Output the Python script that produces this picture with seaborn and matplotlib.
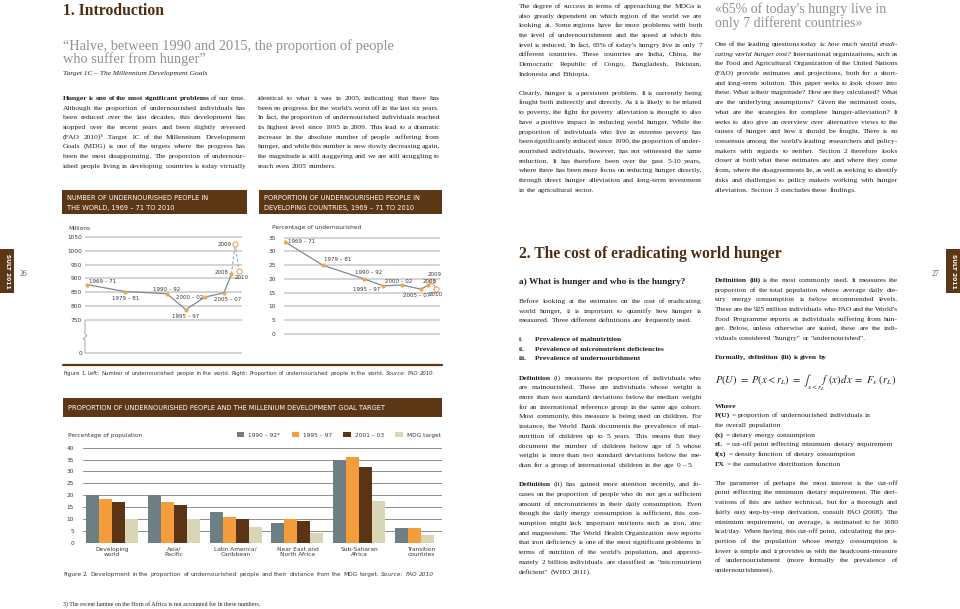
import matplotlib
matplotlib.use("Agg")
import math
import numpy as np
import pandas as pd
import matplotlib.pyplot as plt
import matplotlib.transforms as mtransforms
from matplotlib.font_manager import FontProperties
from matplotlib.patches import Rectangle
from matplotlib.lines import Line2D
import seaborn as sns

# -------------------------
# Chart data
# -------------------------
PERIODS = ["1969 – 71", "1979 – 81", "1990 – 92", "1995 – 97", "2000 – 02",
           "2005 – 07", "2008", "2009", "2010"]
PERIOD_MID = [1970, 1980, 1991, 1996, 2001, 2006, 2008, 2009, 2010]
MILLIONS = [878, 853, 845, 788, 833, 848, 915, 1023, 925]
PCT_UNDERNOURISHED = [33.5, 25, 20, 17.5, 17.8, 16.3, 17.8, 19.3, 16.2]
N_OBSERVED = 7          # 2009 and 2010 are projections (open markers, dashed)

MILLION_TICKS = [0, 750, 800, 850, 900, 950, 1000, 1050]
PCT_TICKS = [0, 5, 10, 15, 20, 25, 30, 35]
BAR_TICKS = [0, 5, 10, 15, 20, 25, 30, 35, 40]

REGIONS = ["Developing\nworld", "Asia/\nPacific", "Latin America/\nCaribbean",
           "Near East and\nNorth Africa", "Sub-Saharan\nAfrica", "Transition\ncountries"]
SERIES = ["1990 – 92*", "1995 – 97", "2001 – 03", "MDG target"]
VAL_1990 = [20, 20, 13, 8.3, 35, 6]
VAL_1995 = [18.2, 17, 11, 10, 36.2, 6]
VAL_2001 = [17, 16, 10, 9, 32, np.nan]
VAL_MDG = [10, 10, 6.6, 4.2, 17.4, 3.1]

# -------------------------
# Styling
# -------------------------
BROWN = "#5b3716"
TITLE_BROWN = "#4e2c10"
INK = "#231f20"
QUOTE = "#8f9193"
CHART_INK = "#3a3a3a"
GRID = "#c9c9c9"
LINE = "#7b8b97"
LINE_LIGHT = "#a3b3bf"
ORANGE = "#eba650"
BAR_COLORS = ["#6d7f83", "#f59d3d", "#5b3415", "#d9d6b5"]
SERIF = "Liberation Serif"
SANS = "DejaVu Sans"
CH = 4.2      # chart text size
LEAD = 9.7    # body line spacing (px)

sns.set_style("white")
plt.rcParams["font.family"] = [SANS]
plt.rcParams["mathtext.fontset"] = "stix"

W, H = 960, 609
fig = plt.figure(figsize=(W / 100, H / 100), dpi=100)
renderer = fig.canvas.get_renderer()


def box(x0, y0, x1, y1):
    return [x0 / W, 1 - y1 / H, (x1 - x0) / W, (y1 - y0) / H]


def font(family, size, weight="normal", style="normal"):
    return FontProperties(family=family, size=size, weight=weight, style=style)


def width(s, prop, math_=False):
    w, _, _ = renderer.get_text_width_height_descent(s, prop, ismath=math_)
    return w


def fit(s, target, family, weight="normal", style="normal", math_=False):
    return 10 * target / width(s, font(family, 10, weight, style), math_)


def tokens(line):
    out = []
    for w in line.split():
        if w.startswith("§"):
            out.append((w[1:], "bold", "normal"))
        elif w.startswith("¤"):
            out.append((w[1:], "normal", "italic"))
        else:
            out.append((w, "normal", "normal"))
    return out


def natural(line, size, family=SERIF):
    toks = tokens(line)
    p = font(family, size)
    space = width("a b", p) - width("ab", p)
    return sum(width(t, font(family, size, wt, st)) for t, wt, st in toks) + space * (len(toks) - 1)


def put(x, base, s, prop, color=INK, ha="left", va="baseline", **kw):
    fig.text(x / W, 1 - base / H, s, fontproperties=prop, color=color, ha=ha, va=va, **kw)


def put_word(x, base, s, prop, color):
    # keep every word of a line on the same pixel baseline: the Agg text bitmap is
    # placed by rounding (baseline + descent), so correct for each word's own box
    _, h, d = renderer.get_text_width_height_descent(s, prop, ismath=False)
    y = round(base) - d + math.floor(h) - math.floor(h - d)
    put(x, y, s, prop, color)


def put_line(x0, x1, base, line, size, family=SERIF, color=INK, justify=True):
    toks = tokens(line)
    props = [font(family, size, wt, st) for _, wt, st in toks]
    ws = [width(t, p) for (t, _, _), p in zip(toks, props)]
    p0 = font(family, size)
    space = width("a b", p0) - width("ab", p0)
    gap = (x1 - x0 - sum(ws)) / (len(toks) - 1) if justify and len(toks) > 1 else space
    x = x0
    for (t, _, _), p, w in zip(toks, props, ws):
        put_word(x, base, t, p, color)
        x += w + gap


# -------------------------
# Body text
# -------------------------
LEFT_P1 = [
    "§Hunger §is §one §of §the §most §significant §problems of our time.",
    "Although the proportion of undernourished individuals has",
    "been reduced over the last decades, this development has",
    "stopped over the recent years and been slightly reversed",
    "(FAO 2010)³ .Target 1C of the Millennium Development",
    "Goals (MDG) is one of the targets where the progress has",
    "been the most disappointing. The proportion of undernour-",
    "ished people living in developing countries is today virtually",
]
LEFT_P2 = [
    "identical to what it was in 2005, indicating that there has",
    "been no progress for the world's worst off in the last six years.",
    "In fact, the proportion of undernourished individuals reached",
    "its highest level since 1995 in 2009. This lead to a dramatic",
    "increase in the absolute number of people suffering from",
    "hunger, and while this number is now slowly decreasing again,",
    "the magnitude is still staggering and we are still struggling to",
    "reach even 2005 numbers.",
]
RIGHT_P1 = [
    "The degree of success in terms of approaching the MDGs is",
    "also greatly dependent on which region of the world we are",
    "looking at. Some regions have far more problems with both",
    "the level of undernourishment and the speed at which this",
    "level is reduced. In fact, 65% of today's hungry live in only 7",
    "different countries. These countries are India, China, the",
    "Democratic Republic of Congo, Bangladesh, Pakistan,",
    "Indonesia and Ethiopia.",
]
RIGHT_P2 = [
    "Clearly, hunger is a persistent problem. It is currently being",
    "fought both indirectly and directly. As it is likely to be related",
    "to poverty, the fight for poverty alleviation is thought to also",
    "have a positive impact in reducing world hunger. While the",
    "proportion of individuals who live in extreme poverty has",
    "been significantly reduced since 1990, the proportion of under-",
    "nourished individuals, however, has not witnessed the same",
    "reduction. It has therefore been over the past 5-10 years,",
    "where there has been more focus on reducing hunger directly,",
    "through direct hunger alleviation and long-term investment",
    "in the agricultural sector.",
]
RIGHT_COL = [
    "One of the leading questions today is: ¤how ¤much ¤would ¤eradi-",
    "¤cating ¤world ¤hunger ¤cost? International organizations, such as",
    "the Food and Agricultural Organization of the United Nations",
    "(FAO) provide estimates and projections, both for a short-",
    "and long-term solution. This paper seeks to look closer into",
    "these. What is their magnitude? How are they calculated? What",
    "are the underlying assumptions? Given the estimated costs,",
    "what are the strategies for complete hunger-alleviation? It",
    "seeks to also give an overview over alternative views to the",
    "causes of hunger and how it should be fought. There is no",
    "consensus among the world's leading researchers and policy-",
    "makers with regards to neither. Section 2 therefore looks",
    "closer at both what these estimates are and where they come",
    "from, where the disagreements lie, as well as seeking to identify",
    "risks and challenges to policy makers working with hunger",
    "alleviation. Section 3 concludes these findings.",
]
INTRO_HUNGER = [
    "Before looking at the estimates on the cost of eradicating",
    "world hunger, it is important to quantify how hunger is",
    "measured. Three different definitions are frequently used.",
]
LIST_NUM = ["i.", "ii.", "iii."]
LIST_TXT = ["Prevalence of malnutrition", "Prevalence of micronutrient deficiencies",
            "Prevalence of undernourishment"]
DEF1 = [
    "§Definition (i) measures the proportion of individuals who",
    "are malnourished. These are individuals whose weight is",
    "more than two standard deviations below the median weight",
    "for an international reference group in the same age cohort.",
    "Most commonly, this measure is being used on children. For",
    "instance, the World Bank documents the prevalence of mal-",
    "nutrition of children up to 5 years. This means that they",
    "document the number of children below age of 5 whose",
    "weight is more than two standard deviations below the me-",
    "dian for a group of international children in the age 0 – 5.",
]
DEF2 = [
    "§Definition (ii) has gained more attention recently, and fo-",
    "cuses on the proportion of people who do not get a sufficient",
    "amount of micronutrients in their daily consumption. Even",
    "though the daily energy consumption is sufficient, this con-",
    "sumption might lack important nutrients such as iron, zinc",
    "and magnesium. The World Health Organization now reports",
    "that iron deficiency is one of the most significant problems in",
    "terms of nutrition of the world's population, and approxi-",
    "mately 2 billion individuals are classified as \"micronutrient",
    "deficient\" (WHO 2011).",
]
DEF3 = [
    "§Definition §(iii) is the most commonly used. It measures the",
    "proportion of the total population whose average daily die-",
    "tary energy consumption is below recommended levels.",
    "These are the 925 million individuals who FAO and the World's",
    "Food Programme reports as individuals suffering from hun-",
    "ger. Below, unless otherwise are stated, these are the indi-",
    "viduals considered \"hungry\" or \"undernourished\".",
]
WHERE = [
    "§Where",
    "§P(U) = proportion of undernourished individuals in",
    "the overall population",
    "§(x) = dietary energy consumption",
    "§rL = cut-off point reflecting minimum dietary requirement",
    "§f(x) = density function of dietary consumption",
    "§FX = the cumulative distribution function",
]
LAST = [
    "The parameter of perhaps the most interest is the cut-off",
    "point reflecting the minimum dietary requirement. The deri-",
    "vations of this are rather technical, but for a thorough and",
    "fairly easy step-by-step derivation, consult FAO (2008). The",
    "minimum requirement, on average, is estimated to be 1680",
    "kcal/day. When having this cut-off point, calculating the pro-",
    "portion of the population whose energy consumption is",
    "lower is simple and it provides us with the headcount-measure",
    "of undernourishment (more formally the prevalence of",
    "undernourishment).",
]

COL_A, COL_B, COL_C, COL_D = (63, 246), (258, 440), (519, 702), (715, 898)
PARAGRAPHS = [
    (COL_A, 100, LEFT_P1, True),
    (COL_B, 100, LEFT_P2, False),
    (COL_C, 8, RIGHT_P1, False),
    (COL_C, 94.7, RIGHT_P2, False),
    (COL_D, 46, RIGHT_COL, False),
    (COL_C, 303, INTRO_HUNGER, False),
    (COL_C, 379.7, DEF1, False),
    (COL_C, 486.3, DEF2, False),
    (COL_D, 282, DEF3, False),
    (COL_D, 484.7, LAST, False),
]

# body size: most justified lines should fit their column at natural spacing
fits = [10 * (c[1] - c[0]) / natural(l, 10)
        for c, _, lines, lastj in PARAGRAPHS
        for i, l in enumerate(lines) if i < len(lines) - 1 or lastj]
body = float(np.percentile(fits, 20))

for (x0, x1), b0, lines, lastj in PARAGRAPHS:
    for i, l in enumerate(lines):
        put_line(x0, x1, b0 + i * LEAD, l, body,
                 justify=(i < len(lines) - 1) or lastj)

# titles and quotes
t_size = (fit("1. Introduction", 102, SERIF, "bold")
          + fit("2. The cost of eradicating world hunger", 261, SERIF, "bold")) / 2
put(63, 15, "1. Introduction", font(SERIF, t_size, "bold"), TITLE_BROWN)
put(519, 257.5, "2. The cost of eradicating world hunger", font(SERIF, t_size, "bold"), TITLE_BROWN)

q_size = fit("“Halve, between 1990 and 2015, the proportion of people", 330, SERIF)
put(63, 50, "“Halve, between 1990 and 2015, the proportion of people", font(SERIF, q_size), QUOTE)
put(63, 63.5, "who suffer from hunger”", font(SERIF, q_size), QUOTE)
put(63, 74.5, "Target 1C – The Millennium Development Goals",
    font(SERIF, fit("Target 1C – The Millennium Development Goals", 144, SERIF, style="italic"),
         style="italic"), INK)
put(715, 12.5, "«65% of today's hungry live in", font(SERIF, q_size * 0.97), QUOTE)
put(715, 27.5, "only 7 different countries»", font(SERIF, q_size * 0.97), QUOTE)

put(519, 284, "a) What is hunger and who is the hungry?",
    font(SERIF, fit("a) What is hunger and who is the hungry?", 167, SERIF, "bold"), "bold"), INK)
for i, (n, t) in enumerate(zip(LIST_NUM, LIST_TXT)):
    put(519, 341 + i * LEAD, n, font(SERIF, body, "bold"))
    put(535, 341 + i * LEAD, t, font(SERIF, body, "bold"))

put_line(715, 898, 359.3, "§Formally, §definition §(iii) §is §given §by", body, justify=False)
formula = r"$P(U)\ =\ P(x<r_L)\ =\ \int_{x<r_L}\! f\ (x)\,dx\ =\ F_x\ (r_L)$"
put(715, 383, formula, font(SERIF, fit(formula, 180, SERIF, math_=True)), INK, va="center")
for i, l in enumerate(WHERE):
    put_line(715, 898, 407.7 + i * LEAD, l, body, justify=False)

put(63, 606, "3) The recent famine on the Horn of Africa is not accounted for in these numbers.",
    font(SERIF, body * 0.8), INK)

# page numbers and side tabs
put(23, 276, "26", font(SERIF, 5.5), "#555555", ha="center")
put(936, 276, "27", font(SERIF, 5.5), "#555555", ha="center")
for x0 in (0, 946):
    fig.patches.append(Rectangle((x0 / W, 1 - 293 / H), 14 / W, 44 / H,
                                 transform=fig.transFigure, color=BROWN, lw=0))
    fig.text((x0 + 7) / W, 1 - 271 / H, "SULT 2011", rotation=270, color="white",
             ha="center", va="center", fontproperties=font(SANS, 4.3, "bold"))

# -------------------------
# Chart frames: headers, rule, captions
# -------------------------
HEAD = fit("NUMBER OF UNDERNOURISHED PEOPLE IN", 143, SANS)
for (x0, x1, y0, y1) in [(62, 247, 190, 214), (259, 442, 190, 214), (63, 442, 398, 417)]:
    fig.patches.append(Rectangle((x0 / W, 1 - y1 / H), (x1 - x0) / W, (y1 - y0) / H,
                                 transform=fig.transFigure, color=BROWN, lw=0))
put(67, 200.5, "NUMBER OF UNDERNOURISHED PEOPLE IN", font(SANS, HEAD), "white")
put(67, 209.5, "THE WORLD, 1969 – 71 TO 2010", font(SANS, HEAD), "white")
put(264, 200.5, "PORPORTION OF UNDERNOURISHED PEOPLE IN", font(SANS, HEAD), "white")
put(264, 209.5, "DEVELOPING COUNTRIES, 1969 – 71 TO 2010", font(SANS, HEAD), "white")
put(68, 410, "PROPORTION OF UNDERNOURISHED PEOPLE AND THE MILLENIUM DEVELOPMENT GOAL TARGET",
    font(SANS, HEAD), "white")

fig.add_artist(Line2D([63 / W, 442 / W], [1 - 364.5 / H] * 2, color=BROWN, lw=1.6))

cap1 = ("Figure 1. Left: Number of undernourished people in the world. Right: Proportion of "
        "undernourished people in the world. ¤Source: ¤FAO ¤2010.")
put_line(63, 432, 375, cap1, 10 * 369 / natural(cap1, 10, SANS), SANS, CHART_INK, justify=False)
cap2 = ("Figure 2. Development in the proportion of undernourished people and their distance "
        "from the MDG target. ¤Source: ¤FAO  ¤2010")
put_line(63, 436, 576, cap2, 10 * 373 / natural(cap2, 10, SANS), SANS, CHART_INK, justify=False)

put(68, 229.5, "Millions", font(SANS, CH), CHART_INK)
put(272, 229.5, "Percentage of undernourished", font(SANS, CH), CHART_INK)
put(68, 437.5, "Percentage of population", font(SANS, CH), CHART_INK)


def style_axes(ax, ticks, pad):
    sns.despine(ax=ax, left=True, bottom=True)
    ax.set_yticks(ticks)
    ax.set_yticklabels([str(t) for t in ticks])
    ax.set_xticks([])
    ax.grid(axis="y", color=GRID, lw=1.1)
    ax.grid(axis="x", visible=False)
    ax.tick_params(axis="y", length=0, pad=pad, labelsize=CH, labelcolor=CHART_INK)
    ax.set_xlabel("")
    ax.set_ylabel("")
    ax.set_facecolor("none")


def draw_series(ax, values, offsets):
    x_obs, y_obs = PERIOD_MID[:N_OBSERVED], values[:N_OBSERVED]
    x_prj, y_prj = PERIOD_MID[N_OBSERVED - 1:], values[N_OBSERVED - 1:]
    sns.lineplot(x=x_obs, y=y_obs, ax=ax, color=LINE, lw=0.9)
    sns.lineplot(x=x_prj, y=y_prj, ax=ax, color=LINE_LIGHT, lw=0.9, linestyle=(0, (2.5, 1.5)))
    sns.scatterplot(x=x_obs, y=y_obs, ax=ax, color=ORANGE, s=9, linewidth=0, zorder=3)
    sns.scatterplot(x=PERIOD_MID[N_OBSERVED:], y=values[N_OBSERVED:], ax=ax, color="white",
                    edgecolor=ORANGE, s=14, linewidth=0.8, zorder=3)
    for x, y, lab, (ha, dx, dy) in zip(PERIOD_MID, values, PERIODS, offsets):
        ax.annotate(lab, (x, y), xytext=(dx * 0.72, dy * 0.72), textcoords="offset points",
                    ha=ha, va="center", fontsize=CH * 0.95, color=CHART_INK)


# -------------------------
# Chart 1: millions (broken axis between 0 and 750)
# -------------------------
K = 33 / 210


def fwd(y):
    y = np.asarray(y, float)
    return np.where(y >= 750, y, 750 - (750 - y) * K)


def inv(t):
    t = np.asarray(t, float)
    return np.where(t >= 750, t, 750 - (750 - t) / K)


ax1 = fig.add_axes(box(85, 232, 242, 358))
ax1.set_yscale("function", functions=(fwd, inv))
OFF1 = [("left", 2, 3), ("center", 1, -7), ("center", 0, 4.5), ("center", 0, -7),
        ("right", -2, 0), ("center", 4, -7), ("right", -3, 2), ("right", -4, 0),
        ("center", 2.5, -6)]
draw_series(ax1, MILLIONS, OFF1)
style_axes(ax1, MILLION_TICKS, 2.2)
ax1.set_xlim(1970 - 2 / 3.8, 2010 + 3 / 3.8)
ax1.set_ylim(float(inv(632.14 - 5 / 0.28)), 1050 + 4.7 / 0.28)
brk = mtransforms.blended_transform_factory(ax1.transAxes, ax1.transData)
ax1.plot([0, 0, 0.012, -0.012, 0, 0], [750, 430, 395, 330, 300, 0], transform=brk,
         color="#9a9a9a", lw=0.6, clip_on=False)

# -------------------------
# Chart 2: percentage undernourished
# -------------------------
ax2 = fig.add_axes(box(284, 234, 440, 338))
OFF2 = [("left", 3, 0.7), ("left", 1, 5.7), ("center", 4.5, 6.7), ("right", -3, -4),
        ("center", -3.5, 4), ("center", -4, -6), ("center", 1.3, 4), ("center", 2.5, 6),
        ("center", 0, -5.4)]
draw_series(ax2, PCT_UNDERNOURISHED, OFF2)
style_axes(ax2, PCT_TICKS, 6)
ax2.set_xlim(1970 - 1 / 3.775, 2010 + 4 / 3.775)
ax2.set_ylim(-4 / 2.751, 35 + 3.7 / 2.751)

# -------------------------
# Chart 3: proportion vs MDG target
# -------------------------
rows = []
for period, vals in zip(SERIES, [VAL_1990, VAL_1995, VAL_2001, VAL_MDG]):
    for region, v in zip(REGIONS, vals):
        if not np.isnan(v):
            rows.append({"region": region, "period": period, "value": v})
bars = pd.DataFrame(rows)

ax3 = fig.add_axes(box(83, 444, 442, 543.2))
sns.barplot(data=bars, x="region", y="value", hue="period", order=REGIONS, hue_order=SERIES,
            palette=BAR_COLORS, saturation=1, width=0.84, gap=0, errorbar=None,
            linewidth=0, ax=ax3)
sns.despine(ax=ax3, left=True, bottom=True)
ax3.set_yticks(BAR_TICKS)
ax3.set_axisbelow(True)
ax3.grid(axis="y", color="#8d8d8d", lw=0.7)
ax3.grid(axis="x", visible=False)
ax3.tick_params(axis="y", length=0, pad=6.5, labelsize=CH, labelcolor=CHART_INK)
ax3.tick_params(axis="x", length=0, pad=2.5, labelsize=CH, labelcolor=CHART_INK)
ax3.set_xlabel("")
ax3.set_ylabel("")
ax3.set_xlim(-0.47, 5.34)
ax3.set_ylim(-0.2, 40 + 3.7 / 2.375)
# Transition countries have no 2001-03 value: the target bar sits right after 1995-97
mdg_bar = ax3.containers[3].patches[-1]
mdg_bar.set_x(mdg_bar.get_x() - mdg_bar.get_width())

handles, labels = ax3.get_legend_handles_labels()
ax3.legend(handles, labels, ncol=4, loc="center right", bbox_to_anchor=(441 / W, 1 - 435 / H),
           bbox_transform=fig.transFigure, frameon=False, prop=font(SANS, CH),
           handlelength=1.3, handleheight=1.0, handletextpad=0.7, columnspacing=1.9,
           borderaxespad=0, borderpad=0, labelcolor=CHART_INK)

fig.savefig("out.png", dpi=100, facecolor="white")
